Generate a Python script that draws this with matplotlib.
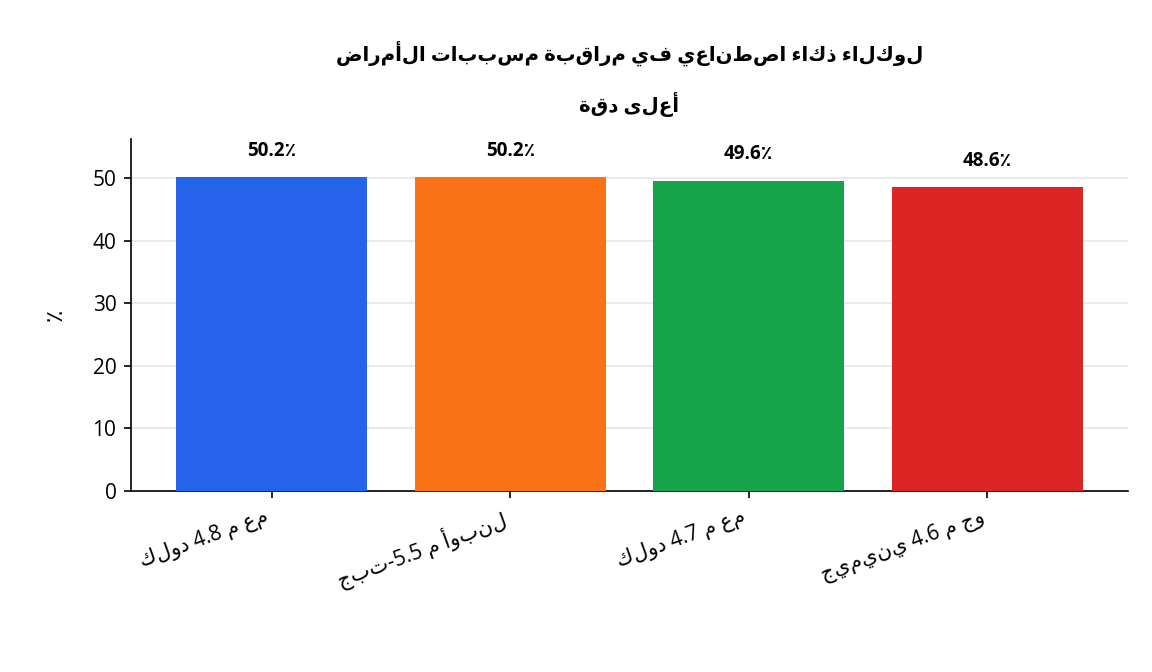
import numpy as np
import matplotlib
matplotlib.use("Agg")
import matplotlib.pyplot as plt

# data
models = ["كلود 4.8 م عم", "جبت-5.5 م أوبنل", "كلود 4.7 م عم", "جيميني 4.6 م جو"]
accuracy = [50.2, 50.2, 49.6, 48.6]
colors = ["#2563EB", "#F97316", "#16A34A", "#DC2626"]
title_lines = ["لوكلاء ذكاء اصطناعي في مراقبة مسببات الأمراض", "أعلى دقة"]
ylabel = "٪"

plt.rcParams["font.family"] = ["Open Sans", "DejaVu Sans"]

fig = plt.figure(figsize=(7.68, 4.48), dpi=150)
ax = fig.add_axes([0.1137, 0.2693, 0.8654, 0.5237])

x = np.arange(len(models))
ax.bar(x, accuracy, width=0.8, color=colors, zorder=3)
ax.set_ylim(0, max(accuracy) * 1.12)
ax.yaxis.grid(True, color="#e6e6e6", linewidth=0.8, zorder=0)
ax.set_axisbelow(True)

for xi, v in zip(x, accuracy):
    ax.text(xi, v + 2.6, f"{v:.1f}٪", ha="center", va="bottom",
            fontsize=9, fontweight="bold")

ax.set_xticks(x)
ax.set_xticklabels(models, rotation=20, ha="right", fontsize=10)
ax.tick_params(axis="y", labelsize=10)
ax.set_ylabel(ylabel, fontsize=11, labelpad=12)

for s in ["top", "right"]:
    ax.spines[s].set_visible(False)

# reversed display order, as drawn without bidi handling
title = "\n".join(t[::-1] for t in title_lines)
ax.set_title(title, fontsize=9.5, fontweight="bold",
             pad=13, linespacing=2.3)

fig.savefig("out.png", dpi=150)
